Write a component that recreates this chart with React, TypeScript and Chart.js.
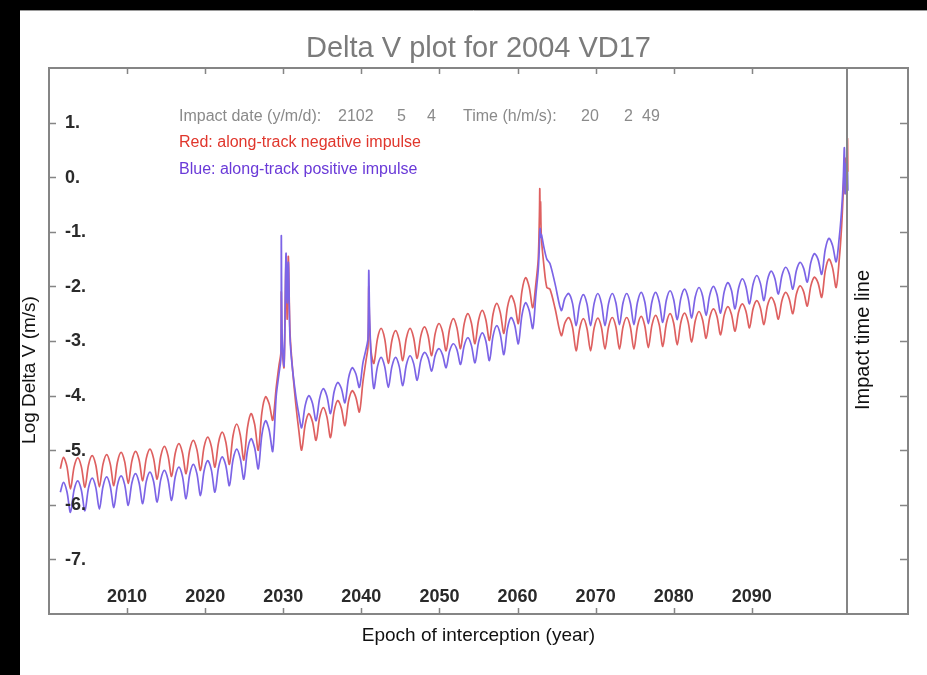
import { useEffect, useRef } from "react";
import { Chart, registerables } from "chart.js";

Chart.register(...registerables);

// Epoch of interception (years). Each row is one synodic arch:
// cusp, rising flank, crest, falling flank; close encounters get denser rows.
const epochs: number[] = [
  2001.45, 2001.85, 2002.30,
  2002.75, 2003.21, 2003.68, 2004.14,
  2004.60, 2005.06, 2005.53, 2005.99,
  2006.45, 2006.91, 2007.38, 2007.84,
  2008.30, 2008.76, 2009.23, 2009.69,
  2010.15, 2010.61, 2011.08, 2011.54,
  2012.00, 2012.46, 2012.93, 2013.39,
  2013.85, 2014.31, 2014.78, 2015.24,
  2015.70, 2016.16, 2016.63, 2017.09,
  2017.55, 2018.01, 2018.48, 2018.94,
  2019.40, 2019.86, 2020.33, 2020.79,
  2021.25, 2021.71, 2022.18, 2022.64,
  2023.10, 2023.56, 2024.03, 2024.49,
  2024.95, 2025.41, 2025.88, 2026.34,
  2026.80, 2027.26, 2027.73, 2028.19,
  2028.65, 2029.10, 2029.45, 2029.70, 2029.75, 2029.85, 2030.10,
  2030.35, 2030.50, 2030.65, 2030.85, 2031.10, 2031.60, 2032.00,
  2032.35, 2032.81, 2033.28, 2033.74,
  2034.20, 2034.66, 2035.13, 2035.59,
  2036.05, 2036.51, 2036.98, 2037.44,
  2037.90, 2038.36, 2038.83, 2039.29,
  2039.75, 2040.20, 2040.60, 2040.85, 2040.95, 2041.05, 2041.25,
  2041.60, 2042.06, 2042.53, 2042.99,
  2043.45, 2043.91, 2044.38, 2044.84,
  2045.30, 2045.76, 2046.23, 2046.69,
  2047.15, 2047.61, 2048.08, 2048.54,
  2049.00, 2049.46, 2049.93, 2050.39,
  2050.85, 2051.31, 2051.78, 2052.24,
  2052.70, 2053.16, 2053.63, 2054.09,
  2054.55, 2055.01, 2055.48, 2055.94,
  2056.40, 2056.86, 2057.33, 2057.79,
  2058.25, 2058.71, 2059.18, 2059.64,
  2060.10, 2060.56, 2061.03, 2061.49,
  2061.95, 2062.35, 2062.65, 2062.80, 2062.85, 2062.90,
  2062.95, 2063.05, 2063.40, 2063.75, 2064.15, 2064.80,
  2065.60, 2066.06, 2066.55, 2067.04,
  2067.50, 2067.96, 2068.43, 2068.89,
  2069.35, 2069.81, 2070.28, 2070.74,
  2071.20, 2071.66, 2072.13, 2072.59,
  2073.05, 2073.51, 2073.98, 2074.44,
  2074.90, 2075.36, 2075.83, 2076.29,
  2076.75, 2077.21, 2077.68, 2078.14,
  2078.60, 2079.06, 2079.53, 2079.99,
  2080.45, 2080.91, 2081.38, 2081.84,
  2082.30, 2082.76, 2083.23, 2083.69,
  2084.15, 2084.61, 2085.08, 2085.54,
  2086.00, 2086.46, 2086.93, 2087.39,
  2087.85, 2088.31, 2088.78, 2089.24,
  2089.70, 2090.16, 2090.63, 2091.09,
  2091.55, 2092.01, 2092.48, 2092.94,
  2093.40, 2093.86, 2094.33, 2094.79,
  2095.25, 2095.71, 2096.18, 2096.64,
  2097.10, 2097.56, 2098.03, 2098.49,
  2098.95, 2099.41, 2099.88, 2100.34,
  2100.80, 2101.20, 2101.50, 2101.70, 2101.85,
  2101.95, 2102.05, 2102.15, 2102.25, 2102.30,
];

// log10 of the along-track negative impulse (m/s)
const negativeImpulseLogDv: number[] = [
  -5.34, -5.13, -5.30,
  -5.71, -5.31, -5.14, -5.30,
  -5.68, -5.27, -5.10, -5.27,
  -5.67, -5.26, -5.08, -5.25,
  -5.65, -5.22, -5.04, -5.21,
  -5.61, -5.20, -5.02, -5.18,
  -5.56, -5.15, -4.98, -5.15,
  -5.53, -5.11, -4.93, -5.10,
  -5.48, -5.06, -4.88, -5.05,
  -5.43, -5.00, -4.82, -4.99,
  -5.37, -4.94, -4.76, -4.93,
  -5.31, -4.86, -4.67, -4.85,
  -5.26, -4.74, -4.52, -4.72,
  -5.18, -4.59, -4.33, -4.53,
  -5.00, -4.31, -4.02, -4.15,
  -4.45, -3.85, -3.45, -3.20, -2.10, -3.10, -3.48,
  -1.55, -2.60, -1.45, -2.80, -3.36, -4.15, -4.65,
  -5.00, -4.53, -4.33, -4.48,
  -4.82, -4.40, -4.22, -4.39,
  -4.77, -4.29, -4.09, -4.23,
  -4.55, -4.10, -3.91, -4.03,
  -4.30, -3.75, -3.35, -3.10, -2.00, -2.70, -3.20,
  -3.41, -2.96, -2.77, -2.96,
  -3.41, -2.99, -2.81, -2.98,
  -3.36, -2.95, -2.77, -2.94,
  -3.32, -2.91, -2.74, -2.90,
  -3.27, -2.86, -2.68, -2.83,
  -3.18, -2.77, -2.59, -2.76,
  -3.14, -2.69, -2.50, -2.67,
  -3.05, -2.62, -2.44, -2.61,
  -2.99, -2.51, -2.31, -2.48,
  -2.86, -2.38, -2.17, -2.32,
  -2.68, -2.09, -1.84, -2.01,
  -2.39, -1.95, -1.50, -0.70, -0.21, -0.85,
  -0.45, -1.10, -1.65, -2.02, -2.05, -2.40,
  -2.90, -2.67, -2.57, -2.75,
  -3.18, -2.77, -2.59, -2.77,
  -3.18, -2.76, -2.58, -2.75,
  -3.15, -2.74, -2.57, -2.74,
  -3.15, -2.74, -2.57, -2.74,
  -3.15, -2.73, -2.55, -2.72,
  -3.12, -2.71, -2.53, -2.70,
  -3.10, -2.68, -2.50, -2.67,
  -3.07, -2.66, -2.49, -2.65,
  -3.02, -2.63, -2.46, -2.61,
  -2.95, -2.57, -2.41, -2.55,
  -2.89, -2.53, -2.37, -2.51,
  -2.82, -2.47, -2.32, -2.45,
  -2.76, -2.41, -2.26, -2.39,
  -2.70, -2.35, -2.20, -2.32,
  -2.60, -2.26, -2.11, -2.23,
  -2.50, -2.14, -1.99, -2.10,
  -2.36, -1.99, -1.83, -1.94,
  -2.20, -1.71, -1.50, -1.66,
  -2.02, -1.50, -0.90, -0.30, 0.20,
  -0.30, 0.35, -0.20, 0.71, 0.10,
];

// log10 of the along-track positive impulse (m/s)
const positiveImpulseLogDv: number[] = [
  -5.77, -5.59, -5.76,
  -6.14, -5.73, -5.56, -5.73,
  -6.11, -5.69, -5.51, -5.68,
  -6.08, -5.67, -5.49, -5.66,
  -6.05, -5.64, -5.47, -5.63,
  -6.01, -5.60, -5.43, -5.60,
  -5.98, -5.57, -5.40, -5.57,
  -5.95, -5.54, -5.37, -5.54,
  -5.92, -5.49, -5.31, -5.48,
  -5.89, -5.45, -5.26, -5.43,
  -5.83, -5.38, -5.19, -5.36,
  -5.77, -5.32, -5.12, -5.28,
  -5.65, -5.18, -4.98, -5.15,
  -5.53, -5.01, -4.79, -4.96,
  -5.34, -4.72, -4.46, -4.63,
  -5.02, -4.00, -3.60, -3.30, -1.07, -2.90, -3.45,
  -1.40, -2.30, -1.56, -2.90, -3.40, -4.00, -4.35,
  -4.59, -4.18, -4.00, -4.14,
  -4.46, -4.05, -3.87, -4.01,
  -4.33, -3.93, -3.76, -3.87,
  -4.13, -3.68, -3.49, -3.60,
  -3.85, -3.40, -3.15, -2.95, -1.71, -2.50, -3.30,
  -3.87, -3.47, -3.30, -3.47,
  -3.85, -3.47, -3.30, -3.46,
  -3.82, -3.44, -3.27, -3.41,
  -3.72, -3.36, -3.21, -3.31,
  -3.55, -3.26, -3.14, -3.25,
  -3.49, -3.18, -3.05, -3.16,
  -3.43, -3.09, -2.94, -3.08,
  -3.40, -3.02, -2.85, -3.00,
  -3.36, -2.91, -2.72, -2.88,
  -3.25, -2.77, -2.57, -2.71,
  -3.05, -2.53, -2.30, -2.44,
  -2.77, -2.15, -1.70, -1.25, -1.00, -0.94,
  -1.10, -1.05, -1.30, -1.50, -1.58, -1.95,
  -2.44, -2.22, -2.13, -2.31,
  -2.72, -2.32, -2.15, -2.32,
  -2.72, -2.31, -2.13, -2.31,
  -2.72, -2.31, -2.13, -2.30,
  -2.70, -2.30, -2.13, -2.30,
  -2.70, -2.29, -2.11, -2.28,
  -2.68, -2.28, -2.11, -2.28,
  -2.66, -2.25, -2.08, -2.24,
  -2.61, -2.22, -2.05, -2.21,
  -2.58, -2.19, -2.02, -2.17,
  -2.53, -2.16, -2.00, -2.15,
  -2.49, -2.10, -1.93, -2.07,
  -2.41, -2.03, -1.86, -2.00,
  -2.32, -1.96, -1.80, -1.94,
  -2.26, -1.88, -1.72, -1.85,
  -2.14, -1.80, -1.65, -1.77,
  -2.05, -1.71, -1.56, -1.67,
  -1.92, -1.56, -1.40, -1.51,
  -1.78, -1.32, -1.12, -1.25,
  -1.55, -1.10, -0.60, -0.10, 0.54,
  -0.30, 0.25, -0.30, 0.10, -0.25,
];

const yearTicks = [2010, 2020, 2030, 2040, 2050, 2060, 2070, 2080, 2090];
const logDvTicks = [1, 0, -1, -2, -3, -4, -5, -6, -7];
const impactEpoch = 2102.34;

const titleText = "Delta V plot for 2004 VD17";
const xAxisTitle = "Epoch of interception (year)";
const yAxisTitle = "Log Delta V (m/s)";
const impactLineLabel = "Impact time line";
const impactInfoParts = ["Impact date (y/m/d):", "2102", "5", "4", "Time (h/m/s):", "20", "2", "49"];
const negativeNote = "Red: along-track negative impulse";
const positiveNote = "Blue: along-track positive impulse";

// page layout (pixels)
const W = 927;
const H = 675;
const infoPartX = [179, 338, 397, 427, 463, 581, 624, 642];
const FONT = '"Liberation Sans", Arial, Helvetica, sans-serif';

const decorations = {
  id: "plotDecorations",
  beforeDraw(chart: Chart) {
    const ctx = chart.ctx;
    ctx.save();
    ctx.fillStyle = "#000";
    ctx.fillRect(0, 0, W, H);
    ctx.fillStyle = "#fff";
    ctx.fillRect(20, 10, W - 20, H - 10);
    ctx.strokeStyle = "#9a9a9a";
    ctx.lineWidth = 1;
    ctx.beginPath();
    ctx.moveTo(20, 10.5);
    ctx.lineTo(W, 10.5);
    ctx.stroke();
    ctx.restore();
  },
  afterDatasetsDraw(chart: Chart) {
    const ctx = chart.ctx;
    const { left, right, top, bottom } = chart.chartArea;
    const xs = chart.scales.x;
    const ys = chart.scales.y;
    ctx.save();

    // frame and impact line
    ctx.strokeStyle = "#858585";
    ctx.lineWidth = 2;
    ctx.strokeRect(left, top, right - left, bottom - top);
    const ix = Math.round(xs.getPixelForValue(impactEpoch)) - 1;
    ctx.beginPath();
    ctx.moveTo(ix, top);
    ctx.lineTo(ix, bottom);
    ctx.stroke();

    // tick marks, drawn inward on all four sides
    ctx.lineWidth = 1.5;
    ctx.beginPath();
    for (const t of yearTicks) {
      const px = Math.round(xs.getPixelForValue(t)) + 0.5;
      ctx.moveTo(px, bottom);
      ctx.lineTo(px, bottom - 6);
      ctx.moveTo(px, top);
      ctx.lineTo(px, top + 6);
    }
    for (const t of logDvTicks) {
      const py = Math.round(ys.getPixelForValue(t)) + 0.5;
      ctx.moveTo(left, py);
      ctx.lineTo(left + 7, py);
      ctx.moveTo(right, py);
      ctx.lineTo(right - 8, py);
    }
    ctx.stroke();

    // tick labels inside the frame
    ctx.fillStyle = "#2a2a2a";
    ctx.font = `bold 18px ${FONT}`;
    ctx.textBaseline = "middle";
    ctx.textAlign = "center";
    for (const t of yearTicks) {
      ctx.fillText(String(t), xs.getPixelForValue(t), bottom - 17);
    }
    ctx.textAlign = "left";
    for (const t of logDvTicks) {
      ctx.fillText(`${t}.`, left + 16, ys.getPixelForValue(t) + 0.5);
    }

    // title
    ctx.fillStyle = "#7b7b7b";
    ctx.font = `29px ${FONT}`;
    ctx.textAlign = "center";
    ctx.textBaseline = "alphabetic";
    ctx.fillText(titleText, (left + right) / 2, 57);

    // axis titles
    ctx.fillStyle = "#111";
    ctx.font = `19px ${FONT}`;
    ctx.fillText(xAxisTitle, (left + right) / 2, 641);
    ctx.textBaseline = "middle";
    ctx.save();
    ctx.translate(30, 370);
    ctx.rotate(-Math.PI / 2);
    ctx.fillText(yAxisTitle, 0, 0);
    ctx.restore();
    ctx.save();
    ctx.font = `20px ${FONT}`;
    ctx.translate(863, 340);
    ctx.rotate(-Math.PI / 2);
    ctx.fillText(impactLineLabel, 0, 0);
    ctx.restore();

    // impact annotation and colour key
    ctx.textAlign = "left";
    ctx.font = `16px ${FONT}`;
    ctx.fillStyle = "#8a8a8a";
    impactInfoParts.forEach((s, i) => ctx.fillText(s, infoPartX[i], 116.5));
    ctx.fillStyle = "#e0362c";
    ctx.fillText(negativeNote, 179, 143);
    ctx.fillStyle = "#6a3ad8";
    ctx.fillText(positiveNote, 179, 170);

    ctx.restore();
  },
};

export default function App() {
  const canvasRef = useRef<HTMLCanvasElement | null>(null);

  useEffect(() => {
    const canvas = canvasRef.current;
    if (!canvas) return;
    const n = Math.min(epochs.length, negativeImpulseLogDv.length, positiveImpulseLogDv.length);
    const negative = [] as { x: number; y: number }[];
    const positive = [] as { x: number; y: number }[];
    for (let i = 0; i < n; i++) {
      negative.push({ x: epochs[i], y: negativeImpulseLogDv[i] });
      positive.push({ x: epochs[i], y: positiveImpulseLogDv[i] });
    }

    const chart = new Chart(canvas, {
      type: "line",
      data: {
        datasets: [
          {
            label: "Blue: along-track positive impulse",
            data: positive,
            borderColor: "rgb(124, 100, 230)",
            borderWidth: 1.7,
            pointRadius: 0,
            tension: 0.3,
            fill: false,
          },
          {
            label: "Red: along-track negative impulse",
            data: negative,
            borderColor: "rgb(222, 96, 96)",
            borderWidth: 1.7,
            pointRadius: 0,
            tension: 0.3,
            fill: false,
          },
        ],
      },
      options: {
        animation: false,
        responsive: false,
        devicePixelRatio: 1,
        layout: { padding: { left: 49, top: 68, right: 19, bottom: 61 } },
        scales: {
          x: { type: "linear", min: 2000, max: 2110, display: false },
          y: { type: "linear", min: -8, max: 2, display: false },
        },
        plugins: {
          legend: { display: false },
          title: { display: false },
          tooltip: { enabled: false },
        },
        events: [],
      },
      plugins: [decorations],
    });

    return () => chart.destroy();
  }, []);

  return (
    <div style={{ position: "fixed", left: 0, top: 0, width: W, height: H, background: "#000" }}>
      <canvas ref={canvasRef} width={W} height={H} style={{ display: "block", width: W, height: H }} />
    </div>
  );
}
